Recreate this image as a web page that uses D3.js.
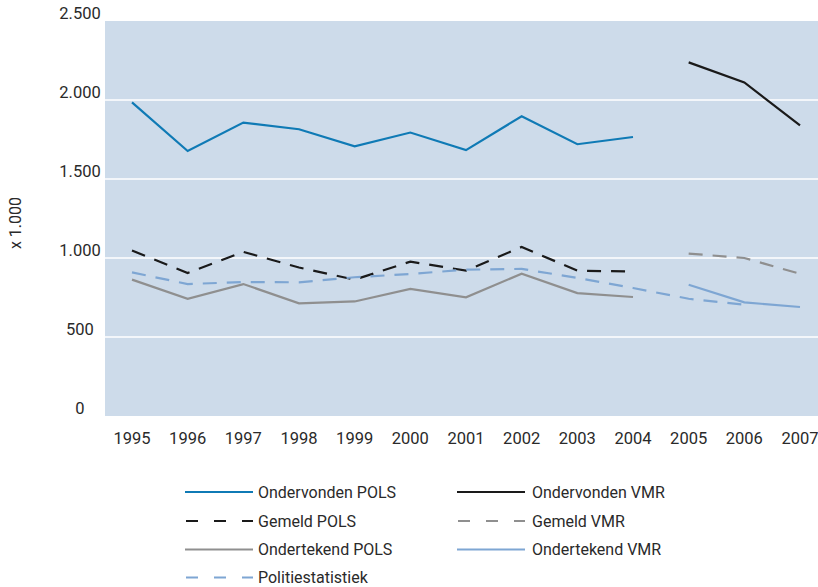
<!DOCTYPE html>
<html>
<head>
<meta charset="utf-8">
<script src="https://cdn.jsdelivr.net/npm/d3@7"></script>
<style>
  body { margin: 0; background: #fff; }
  svg { display: block; font-family: Roboto, sans-serif; }
</style>
</head>
<body>
<svg id="chart" width="818" height="587"></svg>
<script>
const years = [1995, 1996, 1997, 1998, 1999, 2000, 2001, 2002, 2003, 2004, 2005, 2006, 2007];
const yTicks = [0, 500, 1000, 1500, 2000, 2500];

// values x 1.000, null where no data
const ondervondenPols = [1985, 1677, 1857, 1815, 1707, 1794, 1683, 1897, 1720, 1766, null, null, null];
const ondervondenVmr = [null, null, null, null, null, null, null, null, null, null, 2238, 2111, 1840];
const gemeldPols = [1047, 905, 1039, 940, 863, 977, 920, 1070, 920, 914, null, null, null];
const gemeldVmr = [null, null, null, null, null, null, null, null, null, null, 1028, 1000, 900];
const ondertekendPols = [863, 742, 835, 713, 725, 804, 751, 901, 778, 753, null, null, null];
const ondertekendVmr = [null, null, null, null, null, null, null, null, null, null, 831, 719, 690];
const politiestatistiek = [909, 835, 848, 846, 878, 899, 926, 931, 874, 810, 742, 704, null];

const series = [
  { name: "Ondervonden POLS", values: ondervondenPols, color: "#0f7ab5", dash: null },
  { name: "Gemeld POLS", values: gemeldPols, color: "#1a1a1a", dash: "14 10" },
  { name: "Ondertekend POLS", values: ondertekendPols, color: "#8f8f8f", dash: null },
  { name: "Politiestatistiek", values: politiestatistiek, color: "#7ea6d3", dash: "14 10" },
  { name: "Ondervonden VMR", values: ondervondenVmr, color: "#1a1a1a", dash: null },
  { name: "Gemeld VMR", values: gemeldVmr, color: "#8f8f8f", dash: "14 10" },
  { name: "Ondertekend VMR", values: ondertekendVmr, color: "#7ea6d3", dash: null }
];

const svg = d3.select("#chart");
const plot = { left: 105, right: 818, top: 21, bottom: 416 };
const textColor = "#2a2a2a";

const x = d3.scalePoint().domain(years).range([132, 800]);
const y = d3.scaleLinear().domain([0, 2500]).range([plot.bottom, plot.top]);

// background
svg.append("rect")
  .attr("x", plot.left)
  .attr("y", plot.top)
  .attr("width", plot.right - plot.left)
  .attr("height", plot.bottom - plot.top)
  .attr("fill", "#cddbea");

// gridlines
svg.append("g")
  .selectAll("line")
  .data(yTicks.filter((d) => d > 0 && d < 2500))
  .enter()
  .append("line")
  .attr("x1", plot.left)
  .attr("x2", plot.right)
  .attr("y1", (d) => y(d))
  .attr("y2", (d) => y(d))
  .attr("stroke", "#fff")
  .attr("stroke-width", 1.5);

// y tick labels (sit just above each gridline)
svg.append("g")
  .selectAll("text")
  .data(yTicks)
  .enter()
  .append("text")
  .attr("x", 80)
  .attr("y", (d) => y(d) - 2)
  .attr("text-anchor", "middle")
  .style("font-size", "16.5px")
  .style("fill", textColor)
  .text((d) => d3.format(",")(d).replace(/,/g, "."));

// x tick labels
svg.append("g")
  .selectAll("text")
  .data(years)
  .enter()
  .append("text")
  .attr("x", (d) => x(d))
  .attr("y", 444)
  .attr("text-anchor", "middle")
  .style("font-size", "16.5px")
  .style("fill", textColor)
  .text((d) => d);

// y axis title
svg.append("text")
  .attr("transform", "translate(20.5,223) rotate(-90)")
  .attr("text-anchor", "middle")
  .style("font-size", "16px")
  .style("fill", textColor)
  .text("x 1.000");

// lines
const line = d3.line()
  .defined((d) => d != null)
  .x((d, i) => x(years[i]))
  .y((d) => y(d));

svg.append("g")
  .selectAll("path")
  .data(series)
  .enter()
  .append("path")
  .attr("d", (d) => line(d.values))
  .attr("fill", "none")
  .attr("stroke", (d) => d.color)
  .attr("stroke-width", 2.2)
  .attr("stroke-dasharray", (d) => d.dash);

// legend: POLS column left, VMR column right
const legendRows = [
  { s: series[0], col: 0, row: 0 },
  { s: series[1], col: 0, row: 1 },
  { s: series[2], col: 0, row: 2 },
  { s: series[3], col: 0, row: 3 },
  { s: series[4], col: 1, row: 0 },
  { s: series[5], col: 1, row: 1 },
  { s: series[6], col: 1, row: 2 }
];
const colX = [185, 457];
const rowY = [492, 521, 549.5, 577.5];

const legend = svg.append("g")
  .selectAll("g")
  .data(legendRows)
  .enter()
  .append("g")
  .attr("transform", (d) => `translate(${colX[d.col]},${rowY[d.row]})`);

legend.append("line")
  .attr("x1", 0)
  .attr("x2", 68)
  .attr("stroke", (d) => d.s.color)
  .attr("stroke-width", 2.2)
  .attr("stroke-dasharray", (d) => (d.s.dash ? "12 16" : null))
  .attr("stroke-dashoffset", (d) => (d.s.dash ? -1 : 0));

legend.append("text")
  .attr("x", (d) => (d.col === 0 ? 73 : 75))
  .attr("dy", "0.35em")
  .style("font-size", "16px")
  .style("fill", textColor)
  .text((d) => d.s.name);
</script>
</body>
</html>
